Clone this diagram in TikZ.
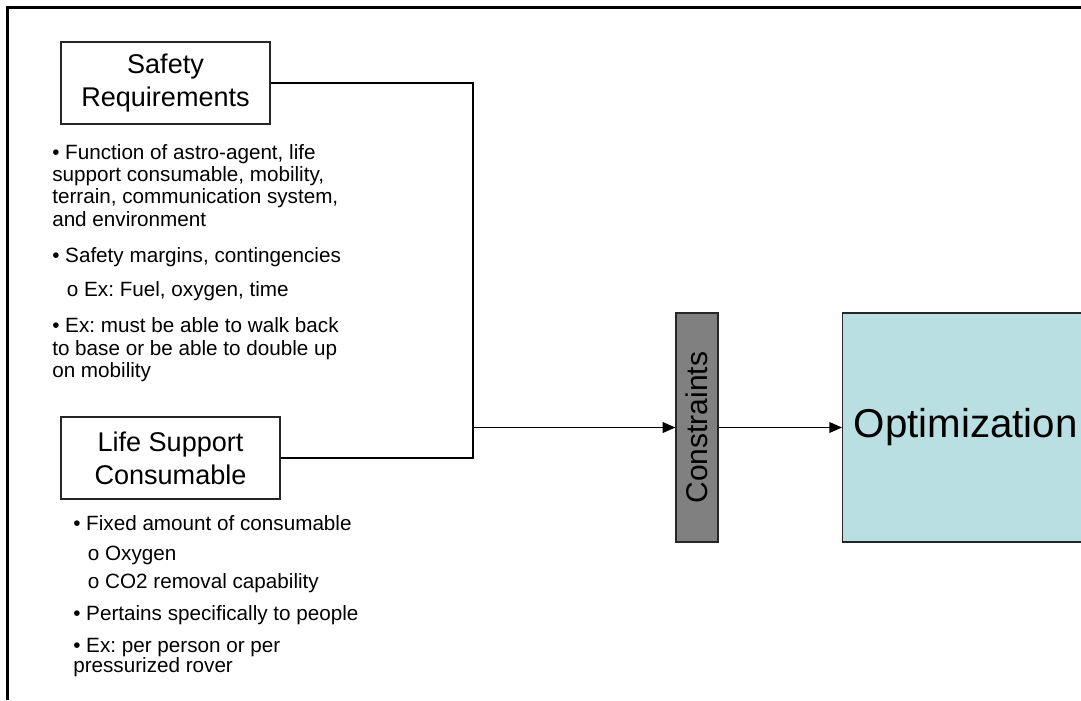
\documentclass[tikz,border=0pt]{standalone}
\usepackage{fontspec}
\setmainfont{Liberation Sans}
\usepackage{tikz}
\usetikzlibrary{arrows.meta, positioning, calc}
\definecolor{constgray}{RGB}{128,128,128}
\definecolor{optblue}{RGB}{186,223,227}
\tikzset{
  titlebox/.style = {
    rectangle, draw=black!85, line width=1.1pt, fill=white,
    minimum height=61.5pt, align=center,
    font=\fontsize{20.3}{24.75}\selectfont
  },
  notes/.style = {
    anchor=base west, align=left, inner sep=0pt,
    font=\fontsize{15.5}{16.7}\selectfont
  },
  constbox/.style = {
    rectangle, draw=black!85, line width=0.9pt, fill=constgray,
    minimum width=171.75pt, minimum height=31.5pt, rotate=90,
    font=\fontsize{22.5}{26}\selectfont
  },
  optbox/.style = {
    rectangle, draw=black!85, line width=0.8pt, fill=optblue,
    minimum height=171.75pt, inner xsep=8.5pt, anchor=west,
    font=\fontsize{30.2}{36}\selectfont
  },
  myarrow/.style = {-{Triangle[length=9.5pt, width=8pt]}, line width=1.1pt}
}

\begin{document}
\frenchspacing
\begin{tikzpicture}[x=0.75pt, y=-0.75pt]
  \useasboundingbox (0,0) rectangle (1081,700);
  \clip (0,0) rectangle (1081,700);
  \draw[line width=2.25pt] (7.5,700) -- (7.5,7.5) -- (1081,7.5);

  % Requirement boxes
  \node[titlebox, minimum width=156.75pt] (SR) at (165.5,83)
    {Safety\\Requirements};
  \node[titlebox, minimum width=164.25pt] (LS) at (170.5,458)
    {Life Support\\Consumable};

  % Constraints and optimization
  \node[constbox] (CON) at (697,427.5) {Constraints};
  \node[optbox] (OPT) at (842,427.5) {Optimization};
  \coordinate (J) at (473,427.5);

  % Connectors
  \draw[line width=1.1pt] (SR.east) -| (J) |- (LS.east);
  \draw[myarrow] (J) -- (CON.north);
  \draw[myarrow] (CON.south) -- (OPT.west);

  % Notes under the boxes (placed by their last line)
  \node[notes] (SRnotes) at (52,377.5)
    {• Function of astro-agent, life\\
     support consumable, mobility,\\
     terrain, communication system,\\
     and environment\\[10.9pt]
     • Safety margins, contingencies\\[8.3pt]
     \hspace*{11pt}o Ex: Fuel, oxygen, time\\[10.9pt]
     • Ex: must be able to walk back\\
     to base or be able to double up\\
     on mobility};
  \node[notes, font=\fontsize{15.5}{15}\selectfont] (LSnotes) at (73,672)
    {• Fixed amount of consumable\\[7.5pt]
     \hspace*{11pt}o Oxygen\\[6pt]
     \hspace*{11pt}o CO2 removal capability\\[9pt]
     • Pertains specifically to people\\[9pt]
     • Ex: per person or per\\
     pressurized rover};
\end{tikzpicture}
\end{document}
